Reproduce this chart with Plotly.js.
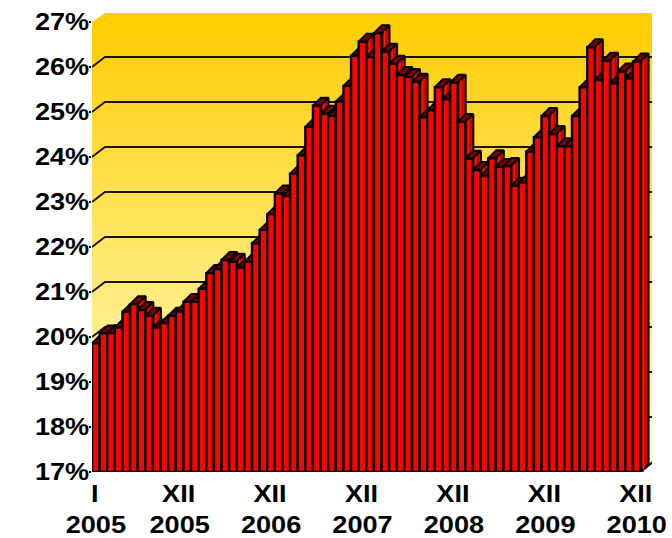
<!DOCTYPE html>
<html>
<head>
<meta charset="utf-8">
<script src="https://cdn.plot.ly/plotly-3.0.1.min.js"></script>
<style>html,body{margin:0;padding:0;background:#fff}</style>
</head>
<body>
<div id="chart" style="width:672px;height:538px"></div>
<script>
// Monthly values, Jan 2005 .. Dec 2010 (percent)
const values = [
  19.86,20.08,20.09,20.21,20.56,20.73,20.60,20.47,20.21,20.31,20.47,20.56,
  20.78,20.78,21.07,21.42,21.51,21.71,21.67,21.54,21.67,22.08,22.38,22.73,
  23.19,23.13,23.63,24.04,24.67,25.14,24.96,24.91,25.23,25.58,26.25,26.56,
  26.22,26.75,26.34,26.07,25.82,25.78,25.67,24.88,25.04,25.55,25.28,25.65,
  24.78,23.96,23.71,23.58,23.97,23.78,23.80,23.36,23.43,24.12,24.44,24.91,
  24.51,24.24,24.24,24.91,25.55,26.44,25.71,26.14,25.64,25.90,25.75,26.12
];
const xTickPositions = [0,11,23,35,47,59,71];
const xTickLabels = ['I<br>2005','XII<br>2005','XII<br>2006','XII<br>2007','XII<br>2008','XII<br>2009','XII<br>2010'];
const yTickValues = [17,18,19,20,21,22,23,24,25,26,27];
const yTickLabels = yTickValues.map(v => v + '%');

// Projection of the 3D look, in axis units
const Y_MIN = 17, Y_MAX = 27.2, X_MIN = -0.5, X_MAX = 73;
const HALF = 0.5;
const BAR_DX = 1.05, BAR_DY = 0.178;   // bar depth
const WALL_DX = 1.7, WALL_DY = 0.222;  // floor depth

const traces = [];
const base = {type:'scatter', mode:'lines', hoverinfo:'skip', showlegend:false};

// Back wall gradient
const rows = 100, yEdges = [], zRows = [];
for (let r = 0; r <= rows; r++) yEdges.push(Y_MIN + (Y_MAX - Y_MIN) * r / rows);
for (let r = 0; r < rows; r++) zRows.push([(r + 0.5) / rows]);
traces.push({type:'heatmap', x:[X_MIN, X_MAX], y:yEdges, z:zRows, zmin:0, zmax:1,
  colorscale:[[0,'#FFFFCC'],[1,'#FFCC00']], showscale:false, hoverinfo:'skip'});

// Cut corners of the wall
traces.push(Object.assign({}, base, {x:[X_MIN,X_MIN,X_MIN+WALL_DX,X_MIN], y:[27,Y_MAX,Y_MAX,27],
  fill:'toself', fillcolor:'#fff', line:{width:0}}));
traces.push(Object.assign({}, base, {x:[71+HALF,X_MAX-0.1,X_MAX,X_MAX,71+HALF], y:[17,17+WALL_DY,17+WALL_DY,17,17],
  fill:'toself', fillcolor:'#fff', line:{width:0}}));

// Gridlines with wall connectors
yTickValues.slice(1,-1).forEach(v => {
  traces.push(Object.assign({}, base, {
    x:[X_MIN, X_MIN+WALL_DX, X_MAX], y:[v, v+WALL_DY, v+WALL_DY],
    line:{color:'#1c1400', width:1.8}}));
});
// Floor front-right edge
traces.push(Object.assign({}, base, {x:[71+HALF,71+HALF+WALL_DX-0.1], y:[17,17+WALL_DY],
  line:{color:'#000', width:2}}));

// Bars, painted left to right: top, side, stripe, front
values.forEach((v,i) => {
  const l = i - HALF, r = i + HALF;
  traces.push(Object.assign({}, base, {
    x:[l, l+BAR_DX, r+BAR_DX, r, l], y:[v, v+BAR_DY, v+BAR_DY, v, v],
    fill:'toself', fillcolor:'#7A0000', line:{color:'#000', width:2}}));
  traces.push(Object.assign({}, base, {
    x:[r, r+BAR_DX, r+BAR_DX, r, r], y:[Y_MIN, Y_MIN+BAR_DY, v+BAR_DY, v, Y_MIN],
    fill:'toself', fillcolor:'#D40000', line:{color:'#000', width:2}}));
  traces.push(Object.assign({}, base, {
    x:[r+0.4, r+0.4], y:[Y_MIN, v+BAR_DY*0.3],
    line:{color:'#EE2A00', width:1}}));
  traces.push(Object.assign({}, base, {
    x:[l, l, r, r, l], y:[Y_MIN, v, v, Y_MIN, Y_MIN],
    fill:'toself', fillcolor:'#FF0000', line:{color:'#000', width:2.4}}));
});

const tickFont = {family:'"Liberation Sans", Arial, sans-serif', size:24, color:'#000', weight:700};
const layout = {
  width:672, height:538,
  margin:{l:92, r:20, t:13, b:66, pad:0},
  paper_bgcolor:'#fff', plot_bgcolor:'rgba(0,0,0,0)',
  showlegend:false,
  xaxis:{range:[X_MIN,X_MAX], tickmode:'array', tickvals:xTickPositions, ticktext:xTickLabels,
    tickfont:tickFont, showgrid:false, zeroline:false, showline:false, ticks:'', tickangle:0,
    ticklabelstandoff:5, fixedrange:true},
  yaxis:{range:[Y_MIN,Y_MAX], tickmode:'array', tickvals:yTickValues, ticktext:yTickLabels,
    tickfont:tickFont, showgrid:false, zeroline:false, showline:false, ticks:'outside', ticklen:2,
    tickwidth:1.5, tickcolor:'#000', fixedrange:true}
};

Plotly.newPlot('chart', traces, layout, {displayModeBar:false, staticPlot:true}).then(() => {
  // The reference lettering is slightly extended horizontally
  const STRETCH = 1.13;
  document.querySelectorAll('.xtick text, .ytick text').forEach(t => {
    const spans = t.querySelectorAll('tspan');
    (spans.length ? spans : [t]).forEach(s => {
      const w = s.getComputedTextLength();
      s.setAttribute('textLength', (w * STRETCH).toFixed(2));
      s.setAttribute('lengthAdjust', 'spacingAndGlyphs');
    });
  });
  document.querySelectorAll('.ytick text').forEach(t => t.setAttribute('dx', '5'));
  document.querySelectorAll('.xtick text').forEach(t => t.setAttribute('dx', '-1'));
});
</script>
</body>
</html>
